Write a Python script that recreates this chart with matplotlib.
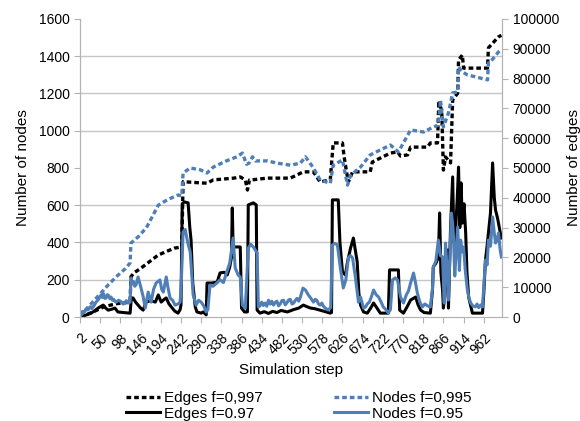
import matplotlib
matplotlib.use('Agg')
import matplotlib.pyplot as plt
from matplotlib.ticker import MultipleLocator

plt.rcParams['font.family'] = ['Liberation Sans', 'DejaVu Sans']

# 仿真步（横轴刻度）
tick_steps = list(range(2, 963, 48))

# Nodes f=0,995（蓝色点线，左轴）
nodes995_x = [2, 20, 40, 52, 70, 90, 110, 121, 123, 140, 160, 188, 210, 235, 244, 247, 264, 288,
              304, 319, 352, 375, 388, 398, 404, 412, 419, 447, 471, 502, 526, 538, 557, 573, 597,
              604, 626, 638, 645, 669, 692, 716, 740, 759, 788, 819, 842, 854, 859, 866, 878, 888,
              900, 902, 911, 923, 971, 973, 978, 997, 1004]
nodes995_y = [5, 50, 100, 129, 175, 220, 260, 290, 397, 430, 480, 600, 630, 655, 650, 773, 800, 790,
              773, 805, 840, 860, 880, 820, 826, 860, 838, 838, 826, 815, 826, 860, 800, 735, 718,
              815, 843, 708, 760, 805, 870, 897, 923, 886, 1004, 993, 1020, 1030, 1165, 1020, 1095, 1203,
              1208, 1342, 1315, 1300, 1273, 1364, 1370, 1423, 1434]

# Edges f=0,997（黑色点线，右轴）
edges997_x = [2, 30, 60, 90, 121, 123, 130, 147, 188, 226, 244, 247, 288, 304, 319, 368, 383, 395,
              400, 405, 410, 447, 502, 533, 557, 573, 597, 604, 626, 630, 635, 640, 650, 692, 697,
              740, 757, 764, 781, 788, 828, 835, 852, 855, 862, 866, 871, 883, 888, 900, 902, 911,
              914, 971, 973, 997, 1004]
edges997_y = [0, 1500, 3500, 4500, 5000, 13500, 14800, 16400, 20800, 23100, 23500, 45400, 45000, 44900,
              46000, 46600, 47000, 46000, 42600, 46000, 46000, 46600, 46600, 48700, 48700, 45300, 46000,
              58400, 58400, 53700, 49300, 45300, 48700, 48700, 52000, 55000, 55400, 54000, 54400, 57000,
              57000, 58400, 58400, 71800, 69500, 49300, 53700, 51700, 72800, 75100, 86200, 87900, 83500,
              83500, 90300, 94000, 94500]

# Nodes f=0.95（蓝色实线，左轴）
nodes95_x = [2, 8, 12, 17, 21, 26, 30, 35, 40, 46, 52, 55, 58, 61, 64, 67, 70, 73, 76, 79, 82, 85,
             88, 94, 100, 104, 108, 112, 116, 121, 123, 126, 129, 132, 135,
             140, 147, 152, 157, 164, 171, 177, 183, 192, 196, 200, 207, 211, 216, 222, 228, 235, 240,
             243, 247, 252, 258, 264, 271, 278, 284, 290, 296, 302, 306, 311, 318, 325, 335, 343, 350,
             358, 366, 371, 378, 383, 388, 395, 402, 408, 414, 423, 426, 430, 434, 438, 442, 446, 450,
             454, 458, 462, 466, 470, 474, 478, 482, 486, 490, 495, 498, 502, 506, 510, 514, 518, 522,
             526, 532, 538, 545, 551, 557, 561, 565, 569, 573, 577, 580, 585, 592, 598, 602, 608,
             614, 621, 628, 634, 640, 645, 650, 657, 664, 669, 676, 681, 685, 690, 695, 700, 706, 712,
             718, 723, 729, 735, 740, 745, 751, 757, 764, 771, 778, 783, 788, 795, 800, 804, 810, 816,
             822, 828, 835, 840, 842, 848, 854, 859, 864, 868, 871, 875, 878, 881, 885, 888, 890, 893,
             895, 900, 904, 907, 911, 914, 918, 923, 927, 931, 936, 942, 946, 950, 955, 959, 966, 970,
             973, 978, 983, 987, 990, 994, 997, 1001, 1004]
nodes95_y = [11, 30, 25, 45, 38, 55, 45, 60, 80, 95, 118, 105, 125, 100, 102, 120, 115, 98, 107, 90,
             95, 85, 80, 90, 82, 70, 72, 88, 75, 80, 209, 185, 190, 165, 172,
             215, 156, 110, 48, 134, 80, 150, 183, 199, 150, 134, 215, 160, 102, 90, 64, 70, 80,
             200, 456, 470, 400, 349, 118, 64, 90, 80, 60, 27, 40, 172, 165, 178, 200, 185, 236,
             290, 424, 263, 225, 215, 64, 48, 370, 390, 376, 345, 54, 60, 80, 62, 75, 58, 90,
             70, 85, 64, 78, 85, 60, 70, 88, 90, 65, 80, 92, 95, 70, 75, 90, 100, 85,
             107, 155, 145, 118, 100, 80, 95, 90, 70, 64, 75, 60, 48, 38, 50, 387, 395,
             387, 263, 156, 200, 317, 330, 317, 209, 80, 107, 48, 54, 70, 80, 110, 145, 120, 107,
             80, 54, 40, 21, 40, 199, 210, 199, 107, 75, 120, 140, 183, 236, 180, 129, 80, 54,
             70, 60, 54, 150, 268, 300, 413, 330, 322, 75, 397, 250, 91, 300, 558, 500, 430, 220,
             300, 483, 250, 413, 350, 376, 250, 145, 100, 75, 60, 54, 70, 50, 65, 54, 306, 280,
             413, 380, 537, 450, 397, 420, 451, 360, 322]

# Edges f=0.97（黑色实线，右轴）
edges97_x = [2, 15, 28, 36, 45, 51, 57, 63, 69, 77, 85, 92, 105, 121, 124, 128, 134, 140, 146, 152,
             159, 170, 181, 188, 195, 201, 207, 213, 219, 227, 235, 240, 242, 245, 250, 259, 263, 266,
             270, 276, 280, 290, 295, 302, 304, 315, 328, 335, 345, 352, 358, 362, 364, 366, 383, 386,
             393, 400, 402, 414, 421, 423, 430, 440, 450, 460, 470, 480, 495, 510, 522, 533, 541, 550,
             560, 573, 585, 597, 600, 602, 616, 620, 626, 633, 638, 645, 652, 657, 661, 665, 669, 676,
             685, 693, 700, 708, 716, 735, 738, 759, 762, 771, 780, 788, 800, 806, 812, 820, 835, 840,
             842, 848, 854, 857, 860, 864, 866, 869, 873, 876, 878, 883, 888, 891, 895, 899, 902, 905,
             908, 911, 915, 919, 922, 926, 935, 959, 962, 966, 970, 973, 978, 983, 987, 990, 995, 1000,
             1004]
edges97_y = [0, 600, 1300, 2000, 3000, 3500, 4000, 3000, 2300, 2600, 3000, 1700, 1500, 1300, 6400,
             6400, 5000, 4000, 3000, 2300, 5000, 5500, 5000, 7400, 5000, 5800, 6400, 4500, 3400, 2000,
             1300, 2500, 4000, 38000, 38600, 38300, 30000, 25800, 11400, 3400, 1700, 1300, 1700, 700,
             11400, 11400, 11700, 14800, 15000, 14100, 16800, 20000, 36600, 23500, 23500, 3000, 1700,
             1700, 37600, 38300, 37600, 2300, 1300, 1800, 1200, 1900, 1500, 2200, 1700, 2500, 3000,
             4000, 3500, 3000, 2800, 2300, 1800, 1300, 1500, 39300, 39300, 25000, 15100, 14100, 18500,
             23000, 26500, 22000, 18500, 8000, 4000, 1700, 1300, 3000, 4700, 3000, 1300, 1300, 15800,
             15800, 2300, 1300, 3500, 5700, 6700, 4000, 2300, 1500, 1300, 9000, 16800, 18000, 20000,
             34900, 15000, 9100, 3000, 6700, 20000, 22500, 3000, 30000, 47000, 25000, 29200, 40000,
             50300, 30000, 45000, 31500, 38000, 28200, 15000, 6700, 1300, 1300, 8000, 19100, 24000,
             28200, 35000, 51700, 40000, 35900, 33000, 29200, 26500]

blue = '#4f7fb6'
grid_col = '#c6c6c6'
dotted = (0, (1.4, 0.9))

fig = plt.figure(figsize=(5.8, 4.21), dpi=100)
ax1 = fig.add_axes([0.138, 0.247, 0.728, 0.708])
ax2 = ax1.twinx()

# 边数（右轴）
ax2.plot(edges997_x, edges997_y, color='black', lw=2.4, ls=dotted, label='Edges f=0,997')
ax2.plot(edges97_x, edges97_y, color='black', lw=2.2, label='Edges f=0.97')
# 节点数（左轴）
ax1.plot(nodes995_x, nodes995_y, color=blue, lw=2.4, ls=dotted, label='Nodes f=0,995')
ax1.plot(nodes95_x, nodes95_y, color=blue, lw=2.2, label='Nodes f=0.95')

# 左轴画在上层
ax1.set_zorder(ax2.get_zorder() + 1)
ax1.patch.set_visible(False)

ax1.set_xlim(2, 1006)
ax1.set_ylim(0, 1600)
ax2.set_ylim(0, 100000)
ax1.yaxis.set_major_locator(MultipleLocator(200))
ax2.yaxis.set_major_locator(MultipleLocator(10000))

# 网格线（对应左轴刻度）
ax2.yaxis.set_minor_locator(MultipleLocator(12500))
ax2.grid(which='minor', axis='y', color=grid_col, lw=1)
ax2.tick_params(which='minor', length=0)

ax1.set_xticks(tick_steps)
ax1.set_xticklabels([str(s) for s in tick_steps], rotation=45, ha='right', rotation_mode='anchor')

for ax in (ax1, ax2):
    ax.spines['top'].set_visible(False)
    for side in ('left', 'right', 'bottom'):
        ax.spines[side].set_color('#b3b3b3')
    ax.tick_params(colors='#b3b3b3', labelcolor='black', labelsize=10, length=4)
ax1.tick_params(axis='x', pad=6)

ax1.set_xlabel('Simulation step', fontsize=11, labelpad=4)
ax1.set_ylabel('Number of nodes', fontsize=11, labelpad=6)
ax2.set_ylabel('Number of edges', fontsize=11, labelpad=6)

h2, l2 = ax2.get_legend_handles_labels()
h1, l1 = ax1.get_legend_handles_labels()
fig.legend(h2 + h1, l2 + l1, ncol=2, loc='center', bbox_to_anchor=(0.515, 0.036),
           frameon=False, fontsize=11, handlelength=2.2, handletextpad=0.25,
           columnspacing=4.7, labelspacing=0.1)

fig.savefig('out.png', dpi=100)
